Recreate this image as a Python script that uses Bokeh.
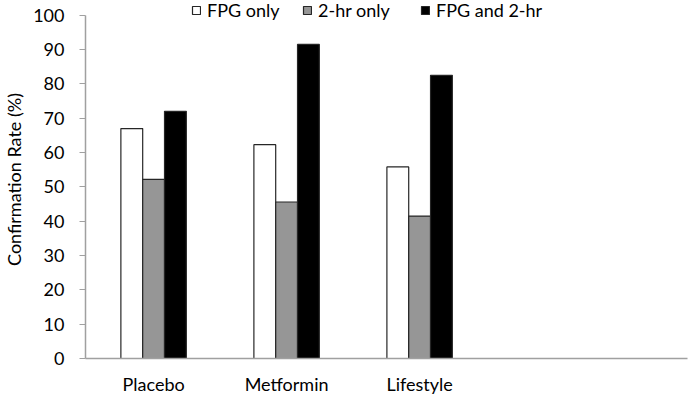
from bokeh.plotting import figure
from bokeh.models import Range1d, FixedTicker, ColumnDataSource, Legend, LegendItem
from bokeh.embed import file_html
from bokeh.resources import INLINE

categories = ["Placebo", "Metformin", "Lifestyle"]
series_names = ["FPG only", "2-hr only", "FPG and 2-hr"]
fpg_only = [67.0, 62.3, 55.8]
two_hr_only = [52.2, 45.6, 41.5]
fpg_and_two_hr = [72.0, 91.5, 82.5]
y_ticks = [0, 10, 20, 30, 40, 50, 60, 70, 80, 90, 100]

FONT = "Lato"
p = figure(frame_width=602, frame_height=358, output_backend="svg", toolbar_location=None,
           x_range=Range1d(-0.512, 4.014), y_range=Range1d(0, 104.3),
           min_border_left=83, min_border_right=7, min_border_top=0, min_border_bottom=43)
p.outline_line_color = None
p.xgrid.grid_line_color = None
p.ygrid.grid_line_color = None

bw = 0.164
idx = list(range(len(categories)))
fills = ["white", "#969696", "black"]
renderers = []
for k, vals in enumerate([fpg_only, two_hr_only, fpg_and_two_hr]):
    src = ColumnDataSource(dict(x=[i + (k - 1) * bw for i in idx], top=vals))
    r = p.vbar(x="x", top="top", width=bw, bottom=0, source=src, fill_color=fills[k],
               line_color="#262626", line_width=1.2)
    renderers.append(r)

# axes
ax = p.xaxis[0]
ax.ticker = FixedTicker(ticks=idx)
ax.major_label_overrides = {i: c for i, c in enumerate(categories)}
ax.major_tick_line_color = None
ax.minor_tick_line_color = None
ax.axis_line_color = "#a0a0a0"
ax.axis_line_width = 1.5
ax.major_label_text_font = FONT
ax.major_label_text_font_size = "18px"
ax.major_label_text_color = "black"
ax.major_label_standoff = 8

ay = p.yaxis[0]
ay.ticker = FixedTicker(ticks=y_ticks)
ay.bounds = (0, 100)
ay.minor_tick_line_color = None
ay.major_tick_in = 0
ay.major_tick_out = 6
ay.major_tick_line_color = "#a0a0a0"
ay.axis_line_color = "#a0a0a0"
ay.axis_line_width = 1.5
ay.major_label_text_font = FONT
ay.major_label_text_font_size = "18px"
ay.major_label_text_color = "black"
ay.major_label_standoff = 15
ay.axis_label = "Confirmation Rate (%)"
ay.axis_label_text_font = FONT
ay.axis_label_text_font_size = "18px"
ay.axis_label_text_font_style = "normal"
ay.axis_label_text_color = "black"
ay.axis_label_standoff = 5

legend_x = [106, 217, 335]
for name, r, lx in zip(series_names, renderers, legend_x):
    lg = Legend(items=[LegendItem(label=name, renderers=[r])], location=(lx, 337),
                orientation="horizontal")
    lg.background_fill_alpha = 0
    lg.border_line_color = None
    lg.padding = 0
    lg.margin = 0
    lg.glyph_width = 10
    lg.glyph_height = 10
    lg.label_height = 16
    lg.label_standoff = 6
    lg.label_text_font = FONT
    lg.label_text_font_size = "18px"
    lg.label_text_color = "black"
    p.add_layout(lg, "center")

open("out.html", "w").write(file_html(p, INLINE))
